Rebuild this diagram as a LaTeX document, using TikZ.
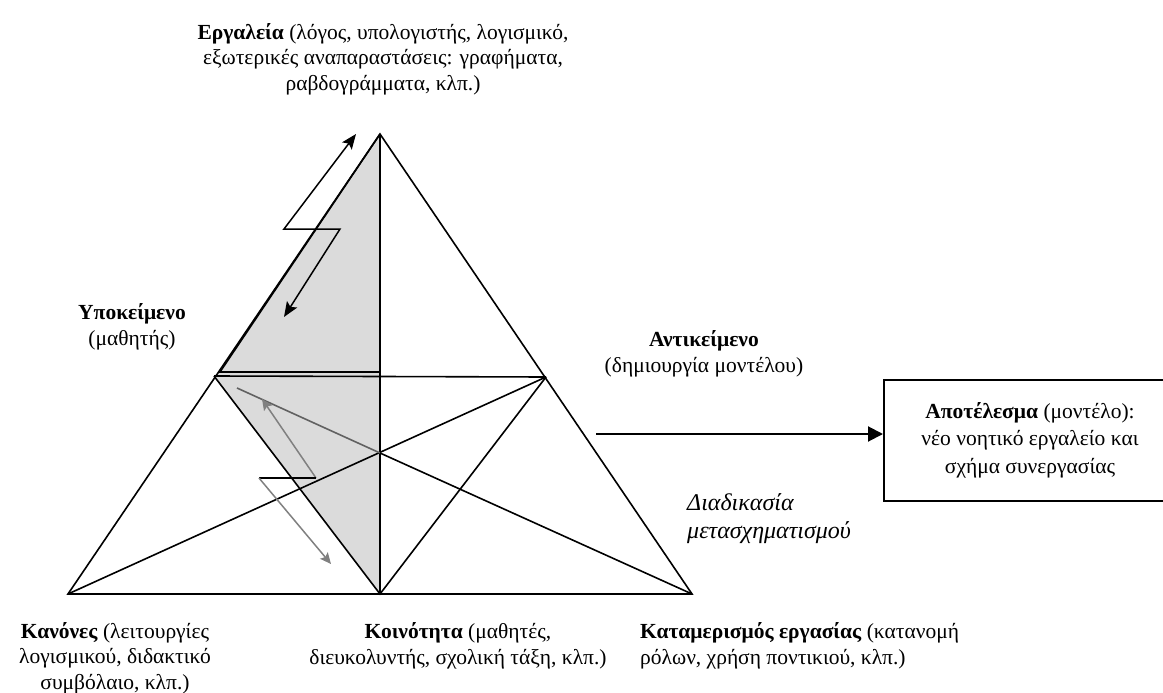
\documentclass[tikz,border=0pt]{standalone}
\usepackage{fontspec}
\setmainfont{Liberation Serif}
\usetikzlibrary{arrows.meta, backgrounds}
\tikzset{
  term/.style = {
    align=center, inner sep=0pt,
    font=\fontsize{21.5}{25.5}\selectfont
  },
  process/.style = {
    align=left, inner sep=0pt,
    font=\fontsize{24}{28}\selectfont\itshape
  },
  resultbox/.style = {
    rectangle, draw=black, line width=2pt, align=center,
    minimum width=292pt, minimum height=121pt, inner sep=0pt,
    font=\fontsize{21.5}{27.5}\selectfont
  },
  side/.style = { draw=black, line width=1.6pt },
  sidegray/.style = { draw=black!62, line width=1.6pt },
  shade/.style = { fill=black!14 },
  zigzag/.style = {
    draw=black, line width=1.5pt,
    {Stealth[length=15pt, width=12pt, inset=3pt]}-{Stealth[length=15pt, width=12pt, inset=3pt]}
  },
  backflow/.style = {
    draw=black!50, line width=1.5pt,
    -{Stealth[length=11pt, width=10pt, inset=2pt]}
  },
  outflow/.style = {
    draw=black, line width=2pt,
    -{Triangle[length=15pt, width=15pt]}
  }
}

\begin{document}
\begin{tikzpicture}[x=1pt, y=-1pt]

    \useasboundingbox (0,0) rectangle (1163,693);

    % ------------------------------------------------------------- Vertices
    \coordinate (tools_v)     at (380,134);
    \coordinate (subject_v)   at (214,376);
    \coordinate (object_v)    at (546,377);
    \coordinate (rules_v)     at (68,594);
    \coordinate (community_v) at (380,594);
    \coordinate (division_v)  at (692,594);
    \coordinate (cross)       at (380,453);

    % ------------------------------------------------------- Shaded corner
    \coordinate (shade_corner) at (220,372);
    \coordinate (shade_mid)    at (380,372);
    \coordinate (gray_start)   at (237,388);

    % ------------------------------------------------------ Zigzag arrows
    \coordinate (up_tip)     at (356,134);
    \coordinate (up_start)   at (284,229);
    \coordinate (down_start) at (340,229);
    \coordinate (down_tip)   at (284,317);

    \coordinate (back_tip)   at (262,399);
    \coordinate (back_start) at (316,478);
    \coordinate (fwd_start)  at (259,478);
    \coordinate (fwd_tip)    at (331,564);

    \coordinate (out_start)  at (596,434);

    % -------------------------------------------------------------- Labels
    \node [term] (tools) at (383,59)
      {\textbf{Εργαλεία} (λόγος, υπολογιστής, λογισμικό,\\
       εξωτερικές αναπαραστάσεις: γραφήματα,\\
       ραβδογράμματα, κλπ.)};
    \node [term] (subject) at (132,327) {\textbf{Υποκείμενο}\\(μαθητής)};
    \node [term] (object)  at (704,354) {\textbf{Αντικείμενο}\\(δημιουργία μοντέλου)};
    \node [process, anchor=west] (transform) at (687,519)
      {Διαδικασία\\μετασχηματισμού};
    \node [resultbox] (result) at (1030,440)
      {\textbf{Αποτέλεσμα} (μοντέλο):\\νέο νοητικό εργαλείο και\\σχήμα συνεργασίας};
    \node [term] (rules) at (115,658)
      {\textbf{Κανόνες} (λειτουργίες\\λογισμικού, διδακτικό\\συμβόλαιο, κλπ.)};
    \node [term] (community) at (458,646)
      {\textbf{Κοινότητα} (μαθητές,\\διευκολυντής, σχολική τάξη, κλπ.)};
    \node [term, align=left, anchor=west] (division) at (640,646)
      {\textbf{Καταμερισμός εργασίας} (κατανομή\\ρόλων, χρήση ποντικιού, κλπ.)};

    % ----------------------------------------- Shading (behind the lines)
    \begin{scope}[on background layer]
      \fill [shade] (tools_v) -- (shade_corner) -- (subject_v)
                    -- (community_v) -- cycle;
    \end{scope}

    % ---------------------------------------------------------- Triangles
    \draw [side] (rules_v) -- (tools_v) -- (division_v) -- cycle;
    \draw [side] (subject_v) -- (object_v);
    \draw [side] (subject_v) -- (community_v) -- (object_v);
    \draw [side] (tools_v) -- (community_v);
    \draw [side] (rules_v) -- (object_v);
    \draw [sidegray] (gray_start) -- (cross);
    \draw [side] (cross) -- (division_v);
    \draw [side] (tools_v) -- (shade_corner) -- (shade_mid);

    % ------------------------------------------------------------- Arrows
    \draw [zigzag] (up_tip) -- (up_start) -- (down_start) -- (down_tip);
    \draw [backflow] (back_start) -- (back_tip);
    \draw [side] (back_start) -- (fwd_start);
    \draw [backflow] (fwd_start) -- (fwd_tip);
    \draw [outflow] (out_start) -- (out_start -| result.west);

\end{tikzpicture}
\end{document}
